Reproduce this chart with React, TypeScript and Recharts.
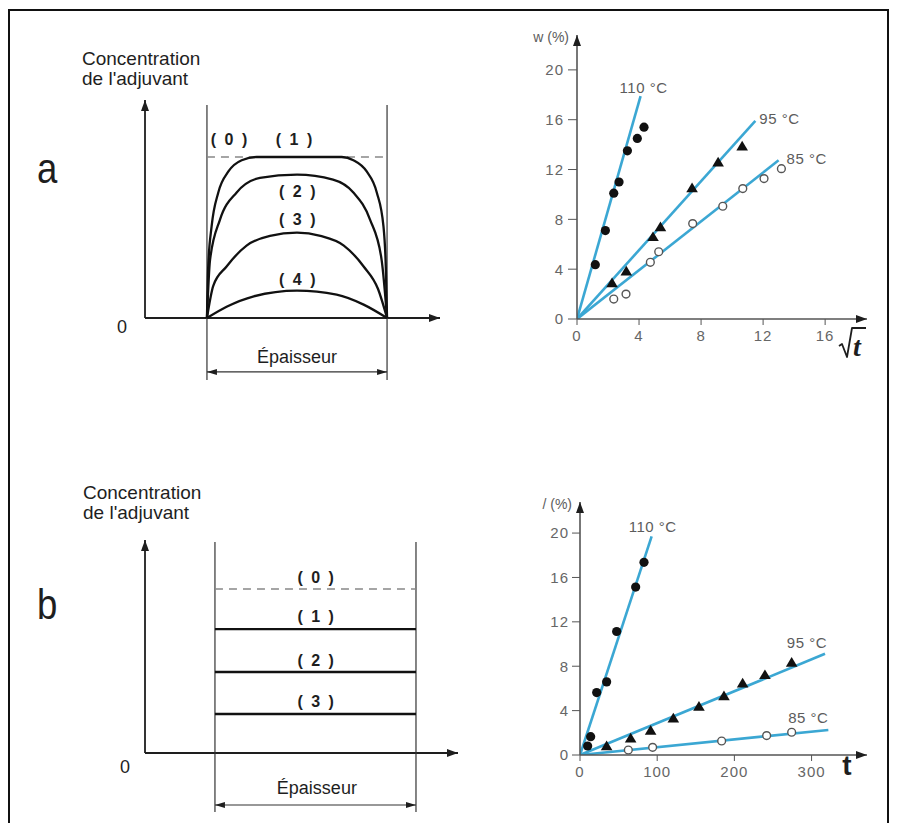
import React from 'react'
import { ComposedChart, Line, Scatter, XAxis, YAxis, ReferenceLine, ReferenceDot } from 'recharts'

const FONT = '"Liberation Sans", Arial, sans-serif'
const SERIF = '"Liberation Serif", "DejaVu Serif", serif'
const INK = '#1e1e1e'
const GREY = '#5c5c5c'
const FIT = '#3ba7d3'

// (a) profils : épaisseur 0–10, concentration relative
const profile1X = [0, 0.07, 0.26, 0.63, 1.19, 1.93, 2.76, 7.48, 8.13, 8.87, 9.43, 9.8, 9.93, 10]
const profile1C = [0, 0.32, 0.57, 0.78, 0.91, 0.98, 1, 1, 0.98, 0.91, 0.78, 0.57, 0.32, 0]
const profile2X = [0, 0.17, 0.72, 1.65, 2.94, 5, 7.0, 8.13, 9.06, 9.7, 10]
const profile2C = [0, 0.36, 0.61, 0.78, 0.87, 0.89, 0.86, 0.78, 0.61, 0.36, 0]
const profile3X = [0, 0.35, 1.09, 2.2, 3.5, 5, 6.3, 7.6, 8.7, 9.5, 10]
const profile3C = [0, 0.2, 0.32, 0.45, 0.51, 0.53, 0.51, 0.45, 0.32, 0.18, 0]
const profile4X = [0, 1.09, 2.6, 5, 7.2, 8.7, 10]
const profile4C = [0, 0.07, 0.135, 0.17, 0.145, 0.083, 0]
const wallX = [0, 10]
const initialC = 1

// (b) profils plats
const levelsB = [0.756, 0.494, 0.238]

// (a) w (%) en fonction de √t
const sqrtT110 = [1.18, 1.83, 2.37, 2.71, 3.25, 3.89, 4.32]
const wA110 = [4.36, 7.1, 10.1, 11.0, 13.5, 14.5, 15.4]
const sqrtT95 = [2.26, 3.18, 4.9, 5.38, 7.42, 9.1, 10.65]
const wA95 = [2.89, 3.83, 6.59, 7.39, 10.52, 12.58, 13.87]
const sqrtT85 = [2.37, 3.16, 4.73, 5.27, 7.46, 9.4, 10.69, 12.06, 13.18]
const wA85 = [1.6, 2.0, 4.55, 5.4, 7.66, 9.05, 10.47, 11.27, 12.07]
const fitA110X = [0, 4.1]
const fitA110Y = [0, 17.9]
const fitA95X = [0, 11.5]
const fitA95Y = [0, 15.9]
const fitA85X = [0, 13.0]
const fitA85Y = [0, 12.74]
const sqrtTicks = [0, 4, 8, 12, 16]

// (b) w (%) en fonction de t
const t110 = [9.9, 13.8, 21.6, 34.5, 47.5, 72.1, 82.9]
const wB110 = [0.81, 1.65, 5.63, 6.59, 11.13, 15.13, 17.36]
const t95 = [34.5, 65.6, 91.5, 120.9, 154.1, 186.5, 210.7, 239.6, 274.2]
const wB95 = [0.81, 1.5, 2.2, 3.31, 4.36, 5.32, 6.47, 7.22, 8.33]
const t85 = [62.6, 94.1, 183.5, 241.8, 274.2]
const wB85 = [0.45, 0.69, 1.26, 1.75, 2.05]
const fitB110X = [0, 92.8]
const fitB110Y = [0, 19.7]
const fitB95X = [0, 317.4]
const fitB95Y = [0, 9.12]
const fitB85X = [0, 321.7]
const fitB85Y = [0, 2.26]
const tTicks = [0, 100, 200, 300]
const wTicks = [0, 4, 8, 12, 16, 20]

type Pt = { x: number; y: number }
const zip = (xs: number[], ys: number[]): Pt[] => xs.map((x, i) => ({ x, y: ys[i] }))

function arrow(dir: 'up' | 'right' | 'left', len = 11, half = 4) {
  return (p: any) => {
    const { cx, cy } = p
    let d = ''
    if (dir === 'up') d = `M${cx},${cy} L${cx - half},${cy + len} L${cx + half},${cy + len} Z`
    if (dir === 'right') d = `M${cx},${cy} L${cx - len},${cy - half} L${cx - len},${cy + half} Z`
    if (dir === 'left') d = `M${cx},${cy} L${cx + len},${cy - half} L${cx + len},${cy + half} Z`
    return <path d={d} fill={INK} />
  }
}

type TextOpts = {
  dx?: number
  dy?: number
  anchor?: 'start' | 'middle' | 'end'
  size?: number
  bold?: boolean
  italic?: boolean
  fill?: string
  spacing?: number
  family?: string
}
const textShape = (value: string, o: TextOpts = {}) => (p: any) => (
  <text
    x={p.cx + (o.dx ?? 0)}
    y={p.cy + (o.dy ?? 0)}
    textAnchor={o.anchor ?? 'middle'}
    dominantBaseline="central"
    fontSize={o.size ?? 15}
    fontFamily={o.family ?? FONT}
    fontWeight={o.bold ? 'bold' : 'normal'}
    fontStyle={o.italic ? 'italic' : 'normal'}
    fill={o.fill ?? INK}
    letterSpacing={o.spacing ?? 0}
  >
    {value}
  </text>
)

const levelLabel = (s: string) => textShape(s, { size: 16, bold: true, spacing: 2 })

// √t drawn next to the arrow tip of the x axis
const sqrtLabel = (p: any) => (
  <g>
    <path
      d={`M${p.cx - 28},${p.cy + 27} L${p.cx - 25},${p.cy + 25} L${p.cx - 20},${p.cy + 38} L${p.cx - 15},${p.cy + 9} L${p.cx - 1},${p.cy + 9}`}
      fill="none" stroke={INK} strokeWidth={1.8} strokeLinejoin="round"
    />
    <text x={p.cx - 14} y={p.cy + 37} fontSize={28} fontFamily={SERIF} fontWeight="bold" fontStyle="italic" fill={INK}>t</text>
  </g>
)

const filledDot = (p: any) => <circle cx={p.cx} cy={p.cy} r={4.6} fill="#111" />
const triangle = (p: any) => (
  <path d={`M${p.cx},${p.cy - 5.5} L${p.cx + 5.8},${p.cy + 4.2} L${p.cx - 5.8},${p.cy + 4.2} Z`} fill="#111" />
)
const openDot = (p: any) => <circle cx={p.cx} cy={p.cy} r={3.9} fill="#fff" stroke="#555" strokeWidth={1.4} />

const axisLine = { stroke: '#555', strokeWidth: 1.6 }
const tickStyle = { fill: '#666', fontSize: 15, fontFamily: FONT, letterSpacing: 1 }

function ProfilesA() {
  const xMin = -3.44
  const yMax = 1.354
  return (
    <ComposedChart width={400} height={340} margin={{ top: 40, right: 20, bottom: 82, left: 85 }}>
      <XAxis type="number" dataKey="x" domain={[xMin, 12.94]} hide />
      <YAxis type="number" dataKey="y" domain={[0, yMax]} hide />
      <ReferenceLine segment={[{ x: xMin, y: 0 }, { x: 12.94, y: 0 }]} stroke={INK} strokeWidth={1.8} ifOverflow="visible" />
      <ReferenceLine segment={[{ x: xMin, y: 0 }, { x: xMin, y: yMax }]} stroke={INK} strokeWidth={1.8} ifOverflow="visible" />
      <ReferenceDot x={12.94} y={0} shape={arrow('right')} ifOverflow="visible" />
      <ReferenceDot x={xMin} y={yMax} shape={arrow('up')} ifOverflow="visible" />
      {wallX.map((w) => (
        <ReferenceLine key={w} segment={[{ x: w, y: -0.385 }, { x: w, y: 1.323 }]} stroke="#333" strokeWidth={1.2} ifOverflow="visible" />
      ))}
      <ReferenceLine segment={[{ x: 0, y: -0.335 }, { x: 10, y: -0.335 }]} stroke="#333" strokeWidth={1.2} ifOverflow="visible" />
      <ReferenceDot x={0} y={-0.335} shape={arrow('left', 10, 3)} ifOverflow="visible" />
      <ReferenceDot x={10} y={-0.335} shape={arrow('right', 10, 3)} ifOverflow="visible" />
      <ReferenceDot x={5} y={-0.24} shape={textShape('Épaisseur', { size: 18 })} ifOverflow="visible" />
      <ReferenceDot x={-4.72} y={-0.056} shape={textShape('0', { size: 18 })} ifOverflow="visible" />
      <Line data={zip(wallX, [initialC, initialC])} dataKey="y" stroke="#888" strokeWidth={1.6} strokeDasharray="8 6" dot={false} isAnimationActive={false} />
      <Line data={zip(profile1X, profile1C)} dataKey="y" type="monotone" stroke="#111" strokeWidth={2.3} dot={false} isAnimationActive={false} />
      <Line data={zip(profile2X, profile2C)} dataKey="y" type="monotone" stroke="#111" strokeWidth={2.3} dot={false} isAnimationActive={false} />
      <Line data={zip(profile3X, profile3C)} dataKey="y" type="monotone" stroke="#111" strokeWidth={2.3} dot={false} isAnimationActive={false} />
      <Line data={zip(profile4X, profile4C)} dataKey="y" type="monotone" stroke="#111" strokeWidth={2.3} dot={false} isAnimationActive={false} />
      <ReferenceDot x={1.28} y={1.107} shape={levelLabel('( 0 )')} ifOverflow="visible" />
      <ReferenceDot x={4.89} y={1.107} shape={levelLabel('( 1 )')} ifOverflow="visible" />
      <ReferenceDot x={5.07} y={0.786} shape={levelLabel('( 2 )')} ifOverflow="visible" />
      <ReferenceDot x={5.07} y={0.61} shape={levelLabel('( 3 )')} ifOverflow="visible" />
      <ReferenceDot x={5.07} y={0.238} shape={levelLabel('( 4 )')} ifOverflow="visible" />
    </ComposedChart>
  )
}

function ProfilesB() {
  const xMin = -3.48
  const yMax = 1.299
  return (
    <ComposedChart width={410} height={340} margin={{ top: 60, right: 12, bottom: 67, left: 85 }}>
      <XAxis type="number" dataKey="x" domain={[xMin, 12.09]} hide />
      <YAxis type="number" dataKey="y" domain={[0, yMax]} hide />
      <ReferenceLine segment={[{ x: xMin, y: 0 }, { x: 12.09, y: 0 }]} stroke={INK} strokeWidth={1.8} ifOverflow="visible" />
      <ReferenceLine segment={[{ x: xMin, y: 0 }, { x: xMin, y: yMax }]} stroke={INK} strokeWidth={1.8} ifOverflow="visible" />
      <ReferenceDot x={12.09} y={0} shape={arrow('right')} ifOverflow="visible" />
      <ReferenceDot x={xMin} y={yMax} shape={arrow('up')} ifOverflow="visible" />
      {wallX.map((w) => (
        <ReferenceLine key={w} segment={[{ x: w, y: -0.36 }, { x: w, y: 1.287 }]} stroke="#333" strokeWidth={1.2} ifOverflow="visible" />
      ))}
      <ReferenceLine segment={[{ x: 0, y: -0.317 }, { x: 10, y: -0.317 }]} stroke="#333" strokeWidth={1.2} ifOverflow="visible" />
      <ReferenceDot x={0} y={-0.317} shape={arrow('left', 10, 3)} ifOverflow="visible" />
      <ReferenceDot x={10} y={-0.317} shape={arrow('right', 10, 3)} ifOverflow="visible" />
      <ReferenceDot x={5.07} y={-0.213} shape={textShape('Épaisseur', { size: 18 })} ifOverflow="visible" />
      <ReferenceDot x={-4.48} y={-0.085} shape={textShape('0', { size: 18 })} ifOverflow="visible" />
      <Line data={zip(wallX, [initialC, initialC])} dataKey="y" stroke="#888" strokeWidth={1.6} strokeDasharray="8 6" dot={false} isAnimationActive={false} />
      {levelsB.map((c, i) => (
        <Line key={i} data={zip(wallX, [c, c])} dataKey="y" stroke="#111" strokeWidth={2.3} dot={false} isAnimationActive={false} />
      ))}
      <ReferenceDot x={5.06} y={1.071} shape={levelLabel('( 0 )')} ifOverflow="visible" />
      <ReferenceDot x={5.06} y={0.831} shape={levelLabel('( 1 )')} ifOverflow="visible" />
      <ReferenceDot x={5.06} y={0.567} shape={levelLabel('( 2 )')} ifOverflow="visible" />
      <ReferenceDot x={5.06} y={0.313} shape={levelLabel('( 3 )')} ifOverflow="visible" />
    </ComposedChart>
  )
}

function SqrtTimeChart() {
  const xMax = 18.7
  const yMax = 22.8
  return (
    <ComposedChart width={390} height={360} margin={{ top: 15, right: 23, bottom: 31, left: 17 }}>
      <XAxis type="number" dataKey="x" domain={[0, xMax]} ticks={sqrtTicks} allowDataOverflow height={30}
        axisLine={axisLine} tickLine={{ stroke: '#555' }} tickSize={6} tickMargin={5} tick={tickStyle} />
      <YAxis type="number" dataKey="y" domain={[0, yMax]} ticks={wTicks} allowDataOverflow width={60}
        axisLine={axisLine} tickLine={{ stroke: '#555' }} tickSize={9} tickMargin={4} tick={tickStyle} />
      <ReferenceDot x={xMax} y={0} shape={arrow('right', 11, 4)} ifOverflow="visible" />
      <ReferenceDot x={0} y={yMax} shape={arrow('up', 11, 4)} ifOverflow="visible" />
      <ReferenceDot x={0} y={yMax} shape={textShape('w (%)', { dx: -8, dy: 2, anchor: 'end', size: 14, fill: GREY })} ifOverflow="visible" />
      <ReferenceDot x={xMax} y={0} shape={sqrtLabel} ifOverflow="visible" />
      <Line data={zip(fitA110X, fitA110Y)} dataKey="y" stroke={FIT} strokeWidth={2.6} dot={false} isAnimationActive={false} />
      <Line data={zip(fitA95X, fitA95Y)} dataKey="y" stroke={FIT} strokeWidth={2.6} dot={false} isAnimationActive={false} />
      <Line data={zip(fitA85X, fitA85Y)} dataKey="y" stroke={FIT} strokeWidth={2.6} dot={false} isAnimationActive={false} />
      <Scatter data={zip(sqrtT110, wA110)} dataKey="y" shape={filledDot} isAnimationActive={false} />
      <Scatter data={zip(sqrtT95, wA95)} dataKey="y" shape={triangle} isAnimationActive={false} />
      <Scatter data={zip(sqrtT85, wA85)} dataKey="y" shape={openDot} isAnimationActive={false} />
      <ReferenceDot x={fitA110X[1]} y={fitA110Y[1]} shape={textShape('110 °C', { dx: 3, dy: -9, fill: GREY, spacing: 0.5 })} ifOverflow="visible" />
      <ReferenceDot x={fitA95X[1]} y={fitA95Y[1]} shape={textShape('95 °C', { dx: 4, dy: -2, anchor: 'start', fill: GREY, spacing: 0.5 })} ifOverflow="visible" />
      <ReferenceDot x={fitA85X[1]} y={fitA85Y[1]} shape={textShape('85 °C', { dx: 8, dy: -2, anchor: 'start', fill: GREY, spacing: 0.5 })} ifOverflow="visible" />
    </ComposedChart>
  )
}

function TimeChart() {
  const xMax = 371.8
  const yMax = 22.8
  return (
    <ComposedChart width={390} height={340} margin={{ top: 22, right: 23, bottom: 35, left: 20 }}>
      <XAxis type="number" dataKey="x" domain={[0, xMax]} ticks={tTicks} allowDataOverflow height={30}
        axisLine={axisLine} tickLine={{ stroke: '#555' }} tickSize={6} tickMargin={5} tick={tickStyle} />
      <YAxis type="number" dataKey="y" domain={[0, yMax]} ticks={wTicks} allowDataOverflow width={60}
        axisLine={axisLine} tickLine={{ stroke: '#555' }} tickSize={8} tickMargin={3} tick={tickStyle} />
      <ReferenceDot x={xMax} y={0} shape={arrow('right', 11, 4)} ifOverflow="visible" />
      <ReferenceDot x={0} y={yMax} shape={arrow('up', 11, 4)} ifOverflow="visible" />
      <ReferenceDot x={0} y={yMax} shape={textShape('/ (%)', { dx: -8, dy: 2, anchor: 'end', size: 14, fill: GREY })} ifOverflow="visible" />
      <ReferenceDot x={xMax} y={0} shape={textShape('t', { dx: -20, dy: 10, size: 28, bold: true, fill: INK })} ifOverflow="visible" />
      <Line data={zip(fitB110X, fitB110Y)} dataKey="y" stroke={FIT} strokeWidth={2.6} dot={false} isAnimationActive={false} />
      <Line data={zip(fitB95X, fitB95Y)} dataKey="y" stroke={FIT} strokeWidth={2.6} dot={false} isAnimationActive={false} />
      <Line data={zip(fitB85X, fitB85Y)} dataKey="y" stroke={FIT} strokeWidth={2.6} dot={false} isAnimationActive={false} />
      <Scatter data={zip(t110, wB110)} dataKey="y" shape={filledDot} isAnimationActive={false} />
      <Scatter data={zip(t95, wB95)} dataKey="y" shape={triangle} isAnimationActive={false} />
      <Scatter data={zip(t85, wB85)} dataKey="y" shape={openDot} isAnimationActive={false} />
      <ReferenceDot x={fitB110X[1]} y={fitB110Y[1]} shape={textShape('110 °C', { dx: 1, dy: -10, fill: GREY, spacing: 0.5 })} ifOverflow="visible" />
      <ReferenceDot x={fitB95X[1]} y={fitB95Y[1]} shape={textShape('95 °C', { dx: 2, dy: -11, anchor: 'end', fill: GREY, spacing: 0.5 })} ifOverflow="visible" />
      <ReferenceDot x={fitB85X[1]} y={fitB85Y[1]} shape={textShape('85 °C', { dx: 0, dy: -12, anchor: 'end', fill: GREY, spacing: 0.5 })} ifOverflow="visible" />
    </ComposedChart>
  )
}

export default function App() {
  const abs = (left: number, top: number): React.CSSProperties => ({ position: 'absolute', left, top })
  return (
    <div style={{ position: 'absolute', left: 0, top: 0, width: 898, height: 823, overflow: 'hidden', background: '#fff', fontFamily: FONT }}>
      <div style={{ position: 'absolute', left: 8, top: 9, width: 877, height: 840, border: '2px solid #111' }} />
      <svg width={898} height={823} style={{ position: 'absolute', left: 0, top: 0 }}>
        <text transform="translate(37,183) scale(0.85,1)" fontSize={43} fontFamily={FONT} fill={INK}>a</text>
        <text transform="translate(37,619) scale(0.85,1)" fontSize={43} fontFamily={FONT} fill={INK}>b</text>
        <text x={82} y={65} fontSize={19} fontFamily={FONT} fill={INK}>Concentration</text>
        <text x={82} y={85} fontSize={19} fontFamily={FONT} fill={INK}>de l'adjuvant</text>
        <text x={83} y={499} fontSize={19} fontFamily={FONT} fill={INK}>Concentration</text>
        <text x={83} y={519} fontSize={19} fontFamily={FONT} fill={INK}>de l'adjuvant</text>
      </svg>
      <div style={abs(60, 60)}><ProfilesA /></div>
      <div style={abs(60, 480)}><ProfilesB /></div>
      <div style={abs(500, 20)}><SqrtTimeChart /></div>
      <div style={abs(500, 480)}><TimeChart /></div>
    </div>
  )
}
